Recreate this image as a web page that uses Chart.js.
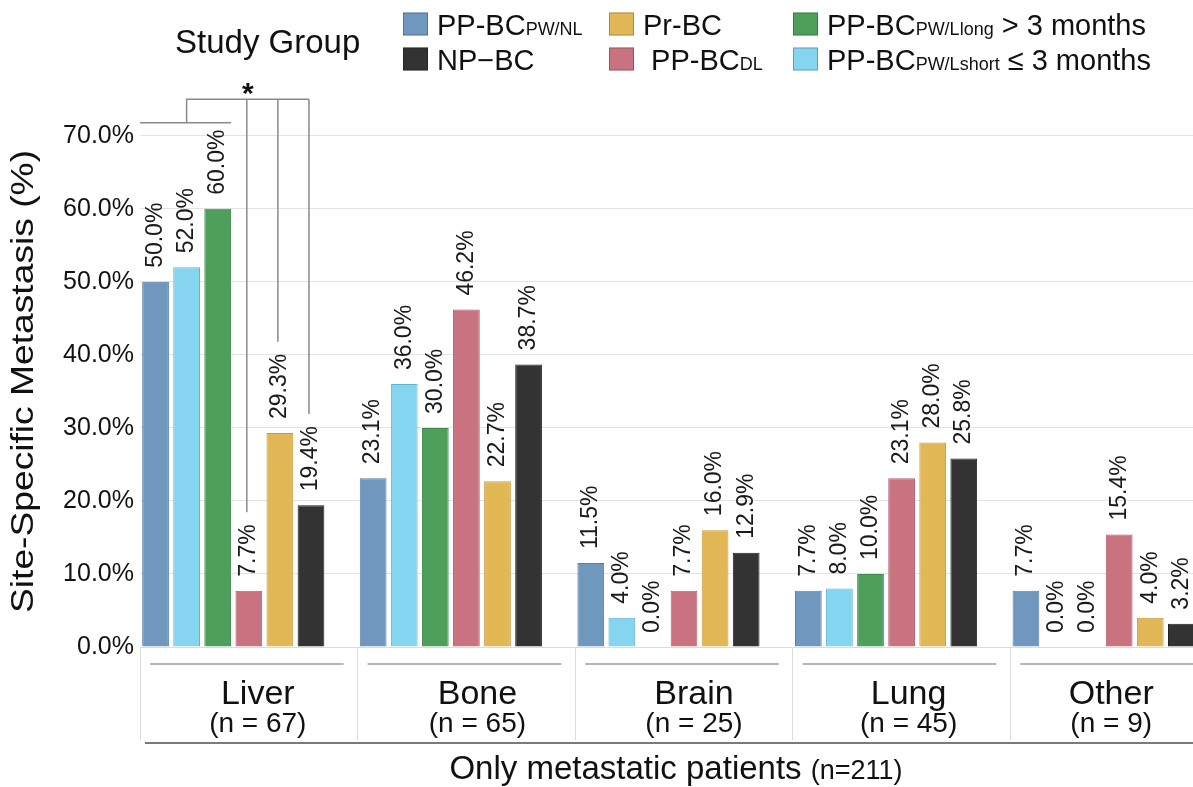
<!DOCTYPE html>
<html>
<head>
<meta charset="utf-8">
<title>Site-Specific Metastasis</title>
<script src="https://cdn.jsdelivr.net/npm/chart.js@4.4.0/dist/chart.umd.min.js"></script>
<style>
  html, body { margin: 0; padding: 0; background: #fff; overflow: hidden; }
  #frame { position: relative; width: 1193px; height: 787px; overflow: hidden; }
  /* the original figure is cropped on the right, so the chart is a bit wider than the frame */
  #wrap { position: absolute; left: 0; top: 0; width: 1240px; height: 787px; }
</style>
</head>
<body>
<div id="frame"><div id="wrap"><canvas id="chart"></canvas></div></div>
<script>
// Data
const sites = ["Liver", "Bone", "Brain", "Lung", "Other"];
const siteCounts = ["(n = 67)", "(n = 65)", "(n = 25)", "(n = 45)", "(n = 9)"];

const ppbcPwNl = [50.0, 23.1, 11.5, 7.7, 7.7];
const ppbcPwLshort = [52.0, 36.0, 4.0, 8.0, 0.0];
const ppbcPwLlong = [60.0, 30.0, 0.0, 10.0, 0.0];
const ppbcDl = [7.7, 46.2, 7.7, 23.1, 15.4];
const prBc = [29.3, 22.7, 16.0, 28.0, 4.0];
const npBc = [19.4, 38.7, 12.9, 25.8, 3.2];

const yTicks = [0, 10, 20, 30, 40, 50, 60, 70];

const xTitle = "Only metastatic patients";
const xTitleNote = "(n=211)";
const yTitle = "Site-Specific Metastasis (%)";
const legendTitle = "Study Group";

const FONT = "'Liberation Sans', Arial, Helvetica, sans-serif";

// legend entries: main text, subscript, trailing text
const legendItems = [
  { main: "PP-BC", sub: "PW/NL", rest: "", color: "#7098be", col: 0, row: 0 },
  { main: "NP\u2212BC", sub: "", rest: "", color: "#333333", col: 0, row: 1 },
  { main: "Pr-BC", sub: "", rest: "", color: "#e2b857", col: 1, row: 0 },
  { main: " PP-BC", sub: "DL", rest: "", color: "#c97380", col: 1, row: 1 },
  { main: "PP-BC", sub: "PW/Llong", rest: " > 3 months", color: "#4e9f5b", col: 2, row: 0 },
  { main: "PP-BC", sub: "PW/Lshort", rest: " \u2264 3 months", color: "#85d4f0", col: 2, row: 1 }
];

function barSet(label, data, color, border) {
  return {
    label: label,
    data: data,
    backgroundColor: color,
    borderColor: border,
    borderWidth: 1,
    borderSkipped: "bottom"
  };
}

const datasets = [
  barSet("PP-BC PW/NL", ppbcPwNl, "#7098be", "#5a7fa6"),
  barSet("PP-BC PW/Lshort <= 3 months", ppbcPwLshort, "#85d4f0", "#5fb4d4"),
  barSet("PP-BC PW/Llong > 3 months", ppbcPwLlong, "#4e9f5b", "#3f8a4b"),
  barSet("PP-BC DL", ppbcDl, "#c97380", "#b05f6c"),
  barSet("Pr-BC", prBc, "#e2b857", "#c59c40"),
  barSet("NP-BC", npBc, "#333333", "#222222"),
  // empty slot: the groups in the figure leave a gap on the right of each site
  { label: "", data: [], backgroundColor: "rgba(0,0,0,0)" }
];

const LABEL_GAP = 14;

// Value labels above the bars, rotated
const valueLabels = {
  id: "valueLabels",
  afterDatasetsDraw(chart) {
    const ctx = chart.ctx;
    ctx.save();
    ctx.font = "23px " + FONT;
    ctx.fillStyle = "#1a1a1a";
    ctx.textAlign = "left";
    ctx.textBaseline = "middle";
    for (let d = 0; d < 6; d++) {
      const meta = chart.getDatasetMeta(d);
      meta.data.forEach((bar, i) => {
        const v = chart.data.datasets[d].data[i];
        ctx.save();
        ctx.translate(bar.x, bar.y - LABEL_GAP);
        ctx.rotate(-Math.PI / 2);
        ctx.fillText(v.toFixed(1) + "%", 0, 0);
        ctx.restore();
      });
    }
    ctx.restore();
  }
};

// Significance bracket over the Liver group
const bracket = {
  id: "bracket",
  afterDatasetsDraw(chart) {
    const ctx = chart.ctx;
    const y = chart.scales.y;
    const bar = (d) => chart.getDatasetMeta(d).data[0];
    const low = y.getPixelForValue(71.8);
    const high = y.getPixelForValue(75.0);
    ctx.save();
    ctx.font = "23px " + FONT;
    ctx.strokeStyle = "#8a8a8a";
    ctx.lineWidth = 1.5;
    ctx.beginPath();
    ctx.moveTo(chart.chartArea.left, low);
    ctx.lineTo(bar(2).x + bar(2).width / 2, low);
    ctx.moveTo(bar(1).x, low);
    ctx.lineTo(bar(1).x, high);
    ctx.lineTo(bar(5).x - 2, high);
    [3, 4, 5].forEach((d) => {
      const b = bar(d);
      const txt = chart.data.datasets[d].data[0].toFixed(1) + "%";
      const end = b.y - LABEL_GAP - ctx.measureText(txt).width - 12;
      ctx.moveTo(b.x - 2, high);
      ctx.lineTo(b.x - 2, end);
    });
    ctx.stroke();
    ctx.fillStyle = "#111";
    ctx.font = "bold 30px " + FONT;
    ctx.textAlign = "center";
    ctx.textBaseline = "alphabetic";
    ctx.fillText("*", bar(3).x - 1, high + 4);
    ctx.restore();
  }
};

// Legend, axis titles, category labels
const decorations = {
  id: "decorations",
  afterDraw(chart) {
    const ctx = chart.ctx;
    const area = chart.chartArea;
    const xs = chart.scales.x;
    ctx.save();
    ctx.fillStyle = "#111";
    ctx.textBaseline = "alphabetic";

    // legend title
    ctx.textAlign = "left";
    ctx.font = "33px " + FONT;
    ctx.fillText(legendTitle, 175, 53);

    // legend items
    const colX = [403, 609, 793];
    const rowY = [24, 59];
    legendItems.forEach((it) => {
      const bx = colX[it.col];
      const cy = rowY[it.row];
      ctx.fillStyle = it.color;
      ctx.fillRect(bx, cy - 11.5, 25, 23);
      ctx.strokeStyle = "rgba(0,0,0,0.25)";
      ctx.lineWidth = 1;
      ctx.strokeRect(bx + 0.5, cy - 11, 24, 22);
      ctx.fillStyle = "#111";
      let tx = bx + 34;
      const base = cy + 11;
      ctx.font = "29px " + FONT;
      ctx.fillText(it.main, tx, base);
      tx += ctx.measureText(it.main).width;
      if (it.sub) {
        ctx.font = "18px " + FONT;
        ctx.fillText(it.sub, tx, base);
        tx += ctx.measureText(it.sub).width;
      }
      if (it.rest) {
        ctx.font = "29px " + FONT;
        ctx.fillText(it.rest, tx, base);
      }
    });

    // y title, stretched along its baseline like the original
    ctx.save();
    ctx.translate(33, (area.top + area.bottom) / 2 + 12);
    ctx.rotate(-Math.PI / 2);
    ctx.scale(1.2, 1);
    ctx.font = "31px " + FONT;
    ctx.textAlign = "center";
    ctx.fillText(yTitle, 0, 0);
    ctx.restore();

    // category labels and the short rules above them
    const half = (xs.getPixelForValue(1) - xs.getPixelForValue(0)) / 2;
    const shift = [9, 11, 10, 7, -8];
    sites.forEach((s, i) => {
      const cx = xs.getPixelForValue(i);
      ctx.strokeStyle = "#6e6e6e";
      ctx.lineWidth = 1.2;
      ctx.beginPath();
      ctx.moveTo(cx - half + 10, area.bottom + 17);
      ctx.lineTo(cx + half - 14, area.bottom + 17);
      ctx.stroke();
      ctx.textAlign = "center";
      ctx.font = "34px " + FONT;
      ctx.fillText(s, cx + shift[i], area.bottom + 57);
      ctx.font = "28px " + FONT;
      ctx.fillText(siteCounts[i], cx + shift[i], area.bottom + 85);
    });

    // long rule under the category boxes
    ctx.strokeStyle = "#7a7a7a";
    ctx.lineWidth = 2;
    ctx.beginPath();
    ctx.moveTo(area.left + 5, area.bottom + 96);
    ctx.lineTo(chart.width, area.bottom + 96);
    ctx.stroke();

    // x title with a smaller note
    ctx.textAlign = "left";
    ctx.font = "33px " + FONT;
    const w1 = ctx.measureText(xTitle + " ").width;
    ctx.font = "27px " + FONT;
    const w2 = ctx.measureText(xTitleNote).width;
    const x0 = area.left + 536 - (w1 + w2) / 2;
    ctx.font = "33px " + FONT;
    ctx.fillText(xTitle + " ", x0, chart.height - 8);
    ctx.font = "27px " + FONT;
    ctx.fillText(xTitleNote, x0 + w1, chart.height - 8);

    ctx.restore();
  }
};

new Chart(document.getElementById("chart"), {
  type: "bar",
  data: { labels: sites, datasets: datasets },
  options: {
    responsive: true,
    maintainAspectRatio: false,
    animation: false,
    layout: { padding: { top: 92, left: 40, right: 12, bottom: 0 } },
    datasets: { bar: { categoryPercentage: 1.0, barPercentage: 0.86 } },
    plugins: {
      legend: { display: false },
      tooltip: { enabled: false }
    },
    scales: {
      x: {
        offset: true,
        ticks: { display: false },
        grid: {
          offset: true,
          drawOnChartArea: false,
          drawTicks: true,
          tickLength: 93,
          color: "#dcdcdc",
          lineWidth: 1
        },
        border: { display: true, color: "#dcdcdc" },
        afterFit: (scale) => { scale.height = 140; }
      },
      y: {
        min: 0,
        max: 76,
        afterBuildTicks: (scale) => { scale.ticks = yTicks.map((v) => ({ value: v })); },
        afterFit: (scale) => { scale.width = 100; },
        ticks: {
          padding: 6,
          color: "#111",
          font: { family: FONT, size: 25 },
          callback: (v) => Number(v).toFixed(1) + "%"
        },
        grid: { color: "#e3e3e3", drawTicks: false },
        border: { display: false }
      }
    }
  },
  plugins: [valueLabels, bracket, decorations]
});
</script>
</body>
</html>
